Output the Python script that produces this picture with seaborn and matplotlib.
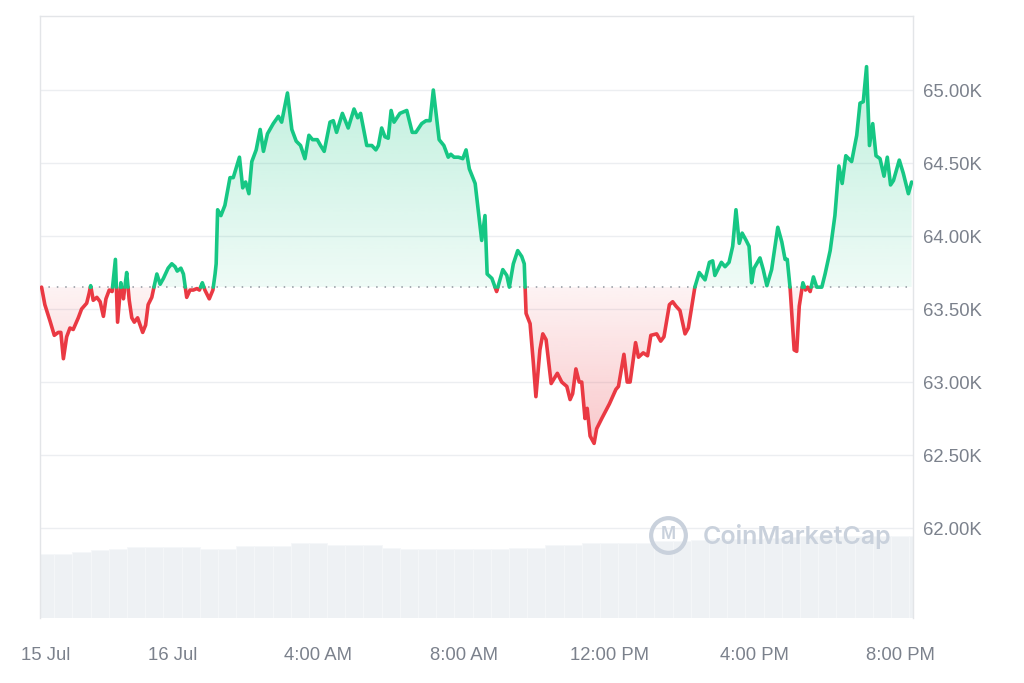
import numpy as np
import pandas as pd
import matplotlib
matplotlib.use("Agg")
import matplotlib.pyplot as plt
import seaborn as sns
from matplotlib.colors import to_rgb

# --- data (hours relative to 16 Jul 00:00, price in K USD) ---
hours = [
    -3.60, -3.51, -3.37, -3.25, -3.14, -3.07, -3.00, -2.91, -2.82, -2.73,
    -2.59, -2.50, -2.36, -2.29, -2.25, -2.18, -2.08, -1.99, -1.90, -1.83,
    -1.74, -1.66, -1.57, -1.51, -1.42, -1.35, -1.26, -1.19, -1.12, -1.05,
    -0.96, -0.89, -0.82, -0.74, -0.67, -0.57, -0.51, -0.43, -0.34, -0.25,
    -0.12, -0.02, 0.07, 0.13, 0.23, 0.30, 0.39, 0.48, 0.57, 0.67,
    0.74, 0.82, 0.89, 1.01, 1.11, 1.17, 1.20, 1.24, 1.33, 1.44,
    1.58, 1.67, 1.84, 1.93, 2.01, 2.10, 2.18, 2.30, 2.41, 2.50,
    2.61, 2.77, 2.91, 3.00, 3.16, 3.28, 3.40, 3.52, 3.64, 3.75,
    3.85, 3.98, 4.07, 4.17, 4.33, 4.42, 4.51, 4.67, 4.83, 4.99,
    5.09, 5.17, 5.34, 5.48, 5.59, 5.66, 5.75, 5.84, 5.93, 6.01,
    6.09, 6.25, 6.44, 6.59, 6.69, 6.85, 6.97, 7.08, 7.17, 7.33,
    7.46, 7.58, 7.65, 7.74, 7.86, 7.98, 8.07, 8.16, 8.32, 8.50,
    8.59, 8.65, 8.78, 8.91, 9.08, 9.19, 9.26, 9.37, 9.49, 9.60,
    9.67, 9.72, 9.83, 9.92, 9.99, 10.10, 10.18, 10.27, 10.41, 10.58,
    10.70, 10.84, 10.93, 11.00, 11.09, 11.18, 11.25, 11.34, 11.40, 11.48,
    11.59, 11.66, 11.80, 12.01, 12.19, 12.26, 12.41, 12.50, 12.58, 12.73,
    12.81, 12.94, 13.06, 13.15, 13.31, 13.42, 13.51, 13.66, 13.75, 13.84,
    13.95, 14.09, 14.18, 14.36, 14.48, 14.64, 14.76, 14.85, 14.91, 15.09,
    15.19, 15.30, 15.40, 15.49, 15.58, 15.66, 15.77, 15.85, 15.92, 15.99,
    16.15, 16.24, 16.34, 16.47, 16.64, 16.75, 16.84, 16.90, 16.98, 17.05,
    17.09, 17.16, 17.23, 17.33, 17.40, 17.46, 17.53, 17.62, 17.71, 17.85,
    17.94, 18.08, 18.21, 18.32, 18.41, 18.51, 18.67, 18.81, 18.90, 18.99,
    19.08, 19.16, 19.25, 19.34, 19.45, 19.56, 19.65, 19.74, 19.82, 19.98,
    20.09, 20.23, 20.32,
]

prices = [
    63.65, 63.53, 63.42, 63.32, 63.34, 63.34, 63.16, 63.31, 63.37, 63.36,
    63.44, 63.50, 63.54, 63.61, 63.66, 63.56, 63.58, 63.55, 63.45, 63.57,
    63.63, 63.62, 63.84, 63.41, 63.68, 63.57, 63.75, 63.56, 63.44, 63.41,
    63.44, 63.39, 63.34, 63.39, 63.53, 63.58, 63.65, 63.74, 63.67, 63.71,
    63.78, 63.81, 63.79, 63.76, 63.78, 63.74, 63.58, 63.63, 63.63, 63.64,
    63.63, 63.68, 63.63, 63.57, 63.63, 63.74, 63.81, 64.18, 64.14, 64.21,
    64.40, 64.40, 64.54, 64.33, 64.37, 64.29, 64.51, 64.59, 64.73, 64.58,
    64.70, 64.77, 64.82, 64.78, 64.98, 64.73, 64.65, 64.62, 64.53, 64.69,
    64.66, 64.66, 64.62, 64.58, 64.78, 64.79, 64.71, 64.84, 64.74, 64.87,
    64.81, 64.84, 64.62, 64.62, 64.59, 64.62, 64.74, 64.68, 64.67, 64.86,
    64.78, 64.84, 64.86, 64.71, 64.71, 64.77, 64.79, 64.79, 65.00, 64.66,
    64.62, 64.54, 64.56, 64.54, 64.54, 64.53, 64.59, 64.46, 64.36, 63.97,
    64.14, 63.74, 63.71, 63.62, 63.77, 63.73, 63.65, 63.81, 63.90, 63.86,
    63.81, 63.47, 63.40, 63.13, 62.90, 63.22, 63.33, 63.29, 62.99, 63.06,
    63.00, 62.97, 62.88, 62.92, 63.09, 63.00, 63.00, 62.75, 62.82, 62.63,
    62.58, 62.68, 62.75, 62.85, 62.95, 62.97, 63.19, 63.00, 63.00, 63.27,
    63.17, 63.20, 63.18, 63.32, 63.33, 63.28, 63.31, 63.53, 63.55, 63.52,
    63.49, 63.33, 63.37, 63.65, 63.75, 63.70, 63.82, 63.83, 63.73, 63.82,
    63.79, 63.82, 63.93, 64.18, 63.95, 64.02, 63.97, 63.93, 63.68, 63.78,
    63.85, 63.77, 63.66, 63.77, 64.06, 63.96, 63.84, 63.84, 63.64, 63.37,
    63.22, 63.21, 63.52, 63.68, 63.63, 63.65, 63.62, 63.72, 63.65, 63.65,
    63.74, 63.90, 64.14, 64.48, 64.36, 64.55, 64.51, 64.69, 64.91, 64.92,
    65.16, 64.62, 64.77, 64.55, 64.53, 64.41, 64.54, 64.35, 64.38, 64.52,
    64.43, 64.29, 64.37,
]

base_price = 63.65  # open price of the window (dotted line)

# volume bars, every 30 minutes (billions USD)
vol_hours = np.arange(-3.5, 20.51, 0.5)
volume = [
    23.4, 23.4, 24.1, 24.9, 25.3, 25.8, 26.1, 26.1, 26.1, 25.3,
    25.3, 26.3, 26.3, 26.3, 27.3, 27.3, 26.5, 26.5, 26.5, 25.6,
    25.1, 25.1, 25.1, 25.1, 25.2, 25.2, 25.6, 25.6, 26.8, 26.8,
    27.4, 27.4, 27.4, 27.4, 28.3, 28.3, 28.6, 29.0, 29.0, 29.0,
    29.3, 29.6, 30.1, 30.1, 30.1, 30.1, 30.1, 30.1, 30.1,
]

tick_hours = [-3.5, 0, 4, 8, 12, 16, 20]
tick_labels = ["15 Jul", "16 Jul", "4:00 AM", "8:00 AM", "12:00 PM", "4:00 PM", "8:00 PM"]
price_ticks = [62.0, 62.5, 63.0, 63.5, 64.0, 64.5, 65.0]

GREEN = "#16c784"
RED = "#ea3943"
LABEL = "#7b818c"

# add the points where the line crosses the base price, then split by side
xs, ys = [hours[0]], [prices[0]]
for i in range(1, len(hours)):
    x0, y0, x1, y1 = hours[i - 1], prices[i - 1], hours[i], prices[i]
    if (y0 - base_price) * (y1 - base_price) < 0:
        t = (base_price - y0) / (y1 - y0)
        xs.append(x0 + t * (x1 - x0))
        ys.append(base_price)
    xs.append(x1)
    ys.append(y1)
xs = np.array(xs)
ys = np.array(ys)

rows = []
seg, cur_side = -1, None
for i in range(len(xs) - 1):
    side = "up" if (ys[i] + ys[i + 1]) / 2 >= base_price else "down"
    if side != cur_side:
        seg += 1
        cur_side = side
        rows.append((xs[i], ys[i], side, seg))
    rows.append((xs[i + 1], ys[i + 1], side, seg))
df = pd.DataFrame(rows, columns=["hour", "price", "side", "seg"])

sns.set_theme(style="white")
plt.rcParams["font.family"] = ["Liberation Sans", "DejaVu Sans"]

fig = plt.figure(figsize=(10.24, 6.83), dpi=100)
ax = fig.add_axes([40 / 1024, 1 - 618 / 683, 873 / 1024, 602 / 683])
ax2 = ax.twinx()
ax.set_zorder(2)
ax.patch.set_visible(False)

# volume in the background
ax2.bar(vol_hours, volume, width=0.5, color="#eef1f4",
        edgecolor="#f5f7f9", linewidth=0.6)
ax2.set_ylim(0, 220)
ax2.set_yticks([])
for s in ax2.spines.values():
    s.set_visible(False)

xmin, xmax = -3.643, 20.357
ymin, ymax = 61.384, 65.507


def gradient_fill(top, bottom, color, lo, hi, a_lo, a_hi):
    poly = ax.fill_between(xs, bottom, top, facecolor="none", edgecolor="none")
    rgba = np.zeros((256, 1, 4))
    rgba[:, :, :3] = to_rgb(color)
    rgba[:, 0, 3] = np.linspace(a_lo, a_hi, 256)
    im = ax.imshow(rgba, extent=[xmin, xmax, lo, hi], origin="lower",
                   aspect="auto", zorder=1, interpolation="bilinear")
    im.set_clip_path(poly.get_paths()[0], transform=ax.transData)


gradient_fill(np.maximum(ys, base_price), base_price, GREEN,
              base_price, ys.max(), 0.07, 0.28)
gradient_fill(base_price, np.minimum(ys, base_price), RED,
              ys.min(), base_price, 0.28, 0.06)

ax.axhline(base_price, color="#8f959e", lw=1.1, ls=(0, (1, 4.5)), zorder=2)

sns.lineplot(data=df, x="hour", y="price", hue="side", units="seg",
             estimator=None, sort=False, palette={"up": GREEN, "down": RED},
             linewidth=2.6, legend=False, ax=ax, zorder=3,
             solid_joinstyle="round", solid_capstyle="round")

ax.set_xlim(xmin, xmax)
ax.set_ylim(ymin, ymax)
ax.set_xlabel("")
ax.set_ylabel("")

ax.yaxis.tick_right()
ax.set_yticks(price_ticks)
ax.set_yticklabels([f"{v:.2f}K" for v in price_ticks])
ax.set_xticks(tick_hours)
ax.set_xticklabels(tick_labels)
ax.tick_params(axis="y", length=0, pad=7, labelsize=13.3, labelcolor=LABEL)
ax.tick_params(axis="x", length=0, pad=21, labelsize=13.3, labelcolor=LABEL)
ax.yaxis.grid(True, color="#eceef1", lw=1)
ax.xaxis.grid(False)
ax.set_axisbelow(True)

for name in ["left", "top", "right"]:
    ax.spines[name].set_color("#e3e5e8")
    ax.spines[name].set_linewidth(1)
ax.spines["bottom"].set_visible(False)

# watermark
wm = "#c9d1dc"
ax.plot([0.7194], [0.1379], marker="o", ms=25, mfc="none", mec=wm, mew=3,
        transform=ax.transAxes, zorder=4)
ax.text(0.7194, 0.1379, "M", transform=ax.transAxes, ha="center", va="center",
        fontsize=13, fontweight="bold", color=wm, zorder=4)
ax.text(0.7595, 0.1346, "CoinMarketCap", transform=ax.transAxes, ha="left",
        va="center", fontsize=18, fontweight="semibold", color=wm,
        family=["Inter", "DejaVu Sans"], zorder=4)

fig.savefig("out.png", dpi=100, facecolor="white")
